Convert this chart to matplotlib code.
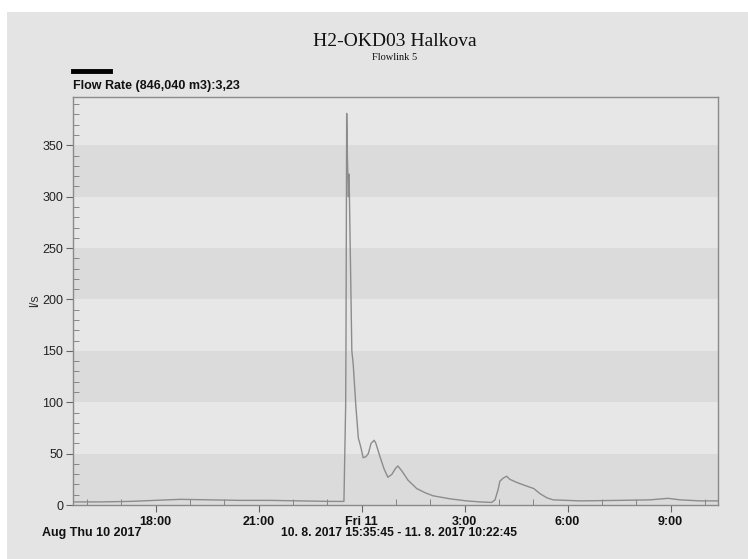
import matplotlib
matplotlib.use("Agg")
import matplotlib.pyplot as plt
import matplotlib.dates as mdates
import matplotlib.ticker as mticker
import pandas as pd
from matplotlib.patches import Rectangle
from matplotlib.lines import Line2D

plt.rcParams["font.family"] = ["Liberation Sans", "DejaVu Sans"]

# ---- data (hours after 10.8.2017 15:35:45, flow in l/s) ----
start = "2017-08-10 15:35:45"
end = "2017-08-11 10:22:45"
hours = [0.0, 0.79, 1.66, 2.39, 3.12, 3.99, 4.86, 5.74, 6.61, 7.48, 7.89,
         7.94, 7.95, 7.97, 7.99, 8.02, 8.04, 8.05, 8.12, 8.16, 8.24, 8.31,
         8.36, 8.39, 8.45, 8.53, 8.60, 8.68, 8.77, 8.82, 8.94, 9.06, 9.17,
         9.29, 9.38, 9.46, 9.58, 9.76, 10.01, 10.25, 10.48, 10.98, 11.46,
         11.85, 12.19, 12.29, 12.38, 12.43, 12.52, 12.63, 12.72, 12.92,
         13.16, 13.42, 13.60, 13.80, 13.98, 14.76, 15.93, 16.80, 17.33,
         17.68, 18.26, 18.78]
flow = [3, 3, 3.5, 4.5, 5.5, 5, 4.5, 4.5, 4, 3.5, 3.5,
        96, 160, 381, 340, 300, 322, 300, 150, 137, 95, 65,
        59, 55, 46, 47, 50, 60, 63, 60, 47, 35, 27,
        30, 35, 38, 33, 24, 16, 12, 9, 6, 4,
        3, 2.5, 5, 15, 23, 26, 28, 25, 22,
        19, 16, 11, 7, 5, 4, 4.5, 5, 6.5,
        5, 4, 4]
yticks = [0, 50, 100, 150, 200, 250, 300, 350]
bands = [(0, 50), (100, 150), (200, 250), (300, 350)]

t0 = pd.Timestamp(start)
t1 = pd.Timestamp(end)
times = [t0 + pd.Timedelta(hours=h) for h in hours]

fig = plt.figure(figsize=(7.48, 5.59), dpi=100)
fig.patch.set_facecolor("white")
fig.add_artist(Rectangle((7 / 748, 0), 1, 1 - 12 / 559, transform=fig.transFigure,
                         facecolor="#e4e4e4", edgecolor="none", zorder=-10))

ax = fig.add_axes([73 / 748, 54 / 559, 645 / 748, 408 / 559])
ax.set_facecolor("#e7e7e7")
for lo, hi in bands:
    ax.axhspan(lo, hi, color="#dbdbdb", zorder=0, lw=0)

ax.plot(times, flow, color="#8c8c8c", lw=1.0, zorder=3)

ax.set_xlim(t0, t1)
ax.set_ylim(0, 397)
ax.set_yticks(yticks)
ax.yaxis.set_minor_locator(mticker.MultipleLocator(10))

ax.xaxis.set_major_locator(mdates.HourLocator(byhour=range(0, 24, 3)))
ax.xaxis.set_minor_locator(mdates.HourLocator(interval=1))


def fmt(x, pos=None):
    d = mdates.num2date(x)
    if d.hour == 0:
        return "Fri 11"
    return f"{d.hour}:00"


ax.xaxis.set_major_formatter(mticker.FuncFormatter(fmt))

for s in ax.spines.values():
    s.set_color("#8a8a8a")
    s.set_linewidth(1.0)

ax.tick_params(axis="y", which="major", direction="out", length=5, color="#666666",
               labelsize=9, labelcolor="#222222", pad=2)
ax.tick_params(axis="y", which="minor", direction="in", length=4, color="#777777")
ax.tick_params(axis="x", which="major", direction="out", length=5, color="#666666",
               labelsize=9, labelcolor="#111111", pad=3)
ax.tick_params(axis="x", which="minor", direction="in", length=4, color="#777777")
for lab in ax.get_xticklabels():
    lab.set_fontweight("bold")

ax.set_ylabel("l/s", fontsize=9, color="#333333", labelpad=0.5)

fig.text(395 / 748, 1 - 42 / 559, "H2-OKD03 Halkova", ha="center", va="center",
         fontsize=14, family="Liberation Serif", color="#111111")
fig.text(395 / 748, 1 - 57 / 559, "Flowlink 5", ha="center", va="center",
         fontsize=7.5, family="Liberation Serif", color="#111111")
fig.add_artist(Line2D([73 / 748, 110 / 748], [1 - 71 / 559, 1 - 71 / 559],
                      transform=fig.transFigure, color="black", lw=3.5))
fig.text(73 / 748, 1 - 86 / 559, "Flow Rate (846,040 m3):3,23", ha="left", va="center",
         fontsize=9, fontweight="bold", color="#111111")
fig.text(42 / 748, 1 - 533 / 559, "Aug Thu 10 2017", ha="left", va="center",
         fontsize=9, fontweight="bold", color="#111111")
fig.text(399 / 748, 1 - 533 / 559, "10. 8. 2017 15:35:45 - 11. 8. 2017 10:22:45",
         ha="center", va="center", fontsize=8.7, fontweight="bold", color="#111111")

fig.savefig("out.png", dpi=100, facecolor=fig.get_facecolor())
